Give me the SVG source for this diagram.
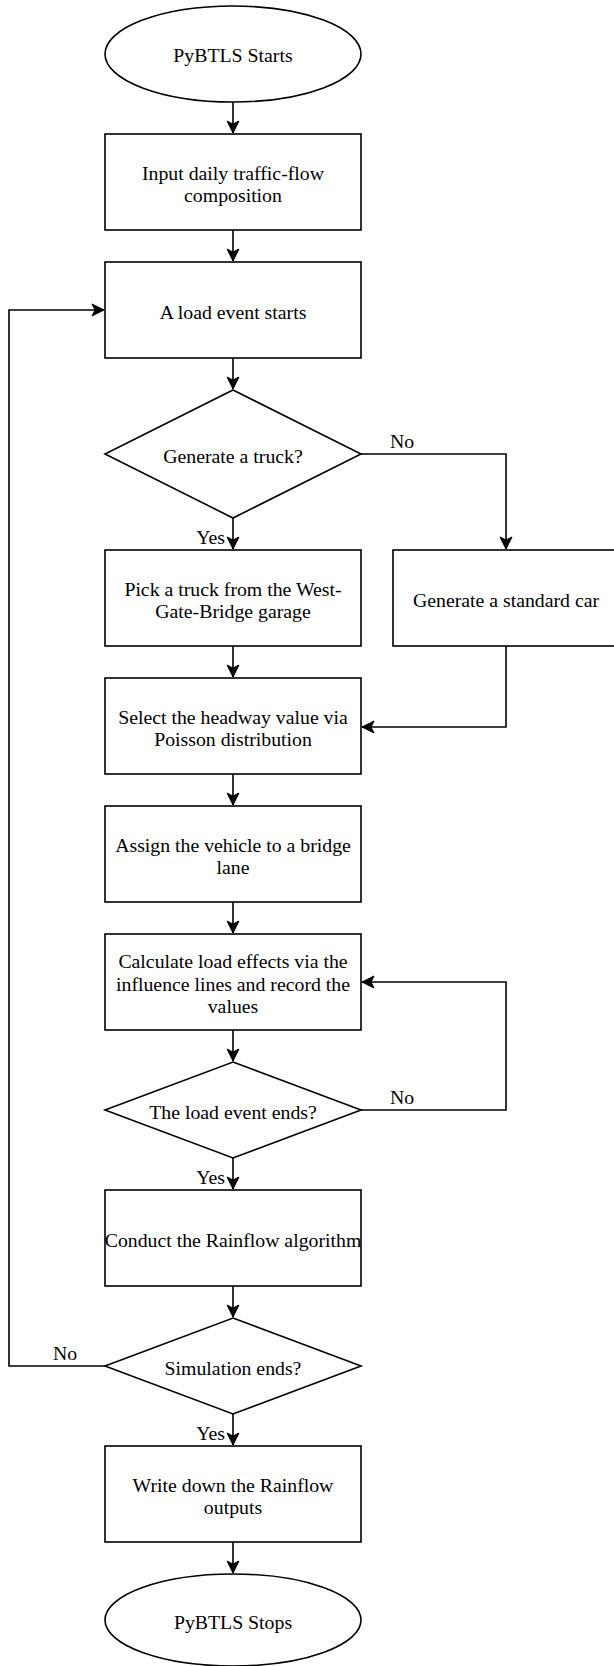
<svg xmlns="http://www.w3.org/2000/svg" width="614" height="1666" viewBox="0 0 614 1666">
<style>
.s{fill:#fff;stroke:#000;stroke-width:1.6}
.c{fill:none;stroke:#000;stroke-width:1.6}
text{font-family:"Liberation Serif","Times New Roman",serif;font-size:19.8px;fill:#000}
.m{text-anchor:middle}
</style>
<defs>
<marker id="a" viewBox="-13 -7 14 14" refX="0" refY="0" markerWidth="14" markerHeight="14" markerUnits="userSpaceOnUse" orient="auto">
<path d="M0,0 L-12,-6 L-9,0 L-12,6 Z" fill="#000" stroke="#000" stroke-width="1"/>
</marker>
</defs>
<g id="connectors">
<path class="c" d="M233,102 V133" marker-end="url(#a)"/>
<path class="c" d="M233,230 V261" marker-end="url(#a)"/>
<path class="c" d="M233,358 V389" marker-end="url(#a)"/>
<path class="c" d="M233,518 V549" marker-end="url(#a)"/>
<path class="c" d="M361,454 H506 V549" marker-end="url(#a)"/>
<path class="c" d="M233,646 V677" marker-end="url(#a)"/>
<path class="c" d="M506,646 V727 H362" marker-end="url(#a)"/>
<path class="c" d="M233,774 V805" marker-end="url(#a)"/>
<path class="c" d="M233,902 V933" marker-end="url(#a)"/>
<path class="c" d="M233,1030 V1061" marker-end="url(#a)"/>
<path class="c" d="M361,1110 H506 V982 H362" marker-end="url(#a)"/>
<path class="c" d="M233,1158 V1189" marker-end="url(#a)"/>
<path class="c" d="M233,1286 V1317" marker-end="url(#a)"/>
<path class="c" d="M105,1366 H9 V310 H104" marker-end="url(#a)"/>
<path class="c" d="M233,1414 V1445" marker-end="url(#a)"/>
<path class="c" d="M233,1542 V1573" marker-end="url(#a)"/>
<text x="225" y="543.5" text-anchor="end">Yes</text>
<text x="390" y="447.5">No</text>
<text x="390" y="1103.5">No</text>
<text x="225" y="1183.5" text-anchor="end">Yes</text>
<text x="53" y="1359.5">No</text>
<text x="225" y="1439.5" text-anchor="end">Yes</text>
</g>
<g id="start">
<ellipse class="s" cx="233" cy="54" rx="128" ry="48"/>
<text class="m" x="233" y="62">PyBTLS Starts</text>
</g>
<g id="input">
<rect class="s" x="105" y="134" width="256" height="96"/>
<text class="m" x="233" y="179.5">Input daily traffic-flow</text>
<text class="m" x="233" y="202">composition</text>
</g>
<g id="loadstart">
<rect class="s" x="105" y="262" width="256" height="96"/>
<text class="m" x="233" y="318.5">A load event starts</text>
</g>
<g id="truckq">
<polygon class="s" points="233,390 361,454 233,518 105,454"/>
<text class="m" x="233" y="462.5">Generate a truck?</text>
</g>
<g id="pick">
<rect class="s" x="105" y="550" width="256" height="96"/>
<text class="m" x="233" y="595.5">Pick a truck from the West-</text>
<text class="m" x="233" y="618">Gate-Bridge garage</text>
</g>
<g id="car">
<rect class="s" x="393" y="550" width="226" height="96"/>
<text class="m" x="506" y="606.5">Generate a standard car</text>
</g>
<g id="headway">
<rect class="s" x="105" y="678" width="256" height="96"/>
<text class="m" x="233" y="723.5">Select the headway value via</text>
<text class="m" x="233" y="746">Poisson distribution</text>
</g>
<g id="assign">
<rect class="s" x="105" y="806" width="256" height="96"/>
<text class="m" x="233" y="851.5">Assign the vehicle to a bridge</text>
<text class="m" x="233" y="874">lane</text>
</g>
<g id="calc">
<rect class="s" x="105" y="934" width="256" height="96"/>
<text class="m" x="233" y="968">Calculate load effects via the</text>
<text class="m" x="233" y="990.5">influence lines and record the</text>
<text class="m" x="233" y="1013">values</text>
</g>
<g id="endq">
<polygon class="s" points="233,1062 361,1110 233,1158 105,1110"/>
<text class="m" x="233" y="1118.5">The load event ends?</text>
</g>
<g id="rainflow">
<rect class="s" x="105" y="1190" width="256" height="96"/>
<text class="m" x="233" y="1246.5">Conduct the Rainflow algorithm</text>
</g>
<g id="simq">
<polygon class="s" points="233,1318 361,1366 233,1414 105,1366"/>
<text class="m" x="233" y="1374.5">Simulation ends?</text>
</g>
<g id="write">
<rect class="s" x="105" y="1446" width="256" height="96"/>
<text class="m" x="233" y="1491.5">Write down the Rainflow</text>
<text class="m" x="233" y="1514">outputs</text>
</g>
<g id="stop">
<ellipse class="s" cx="233" cy="1620" rx="128" ry="46"/>
<text class="m" x="233" y="1628.5">PyBTLS Stops</text>
</g>
</svg>
